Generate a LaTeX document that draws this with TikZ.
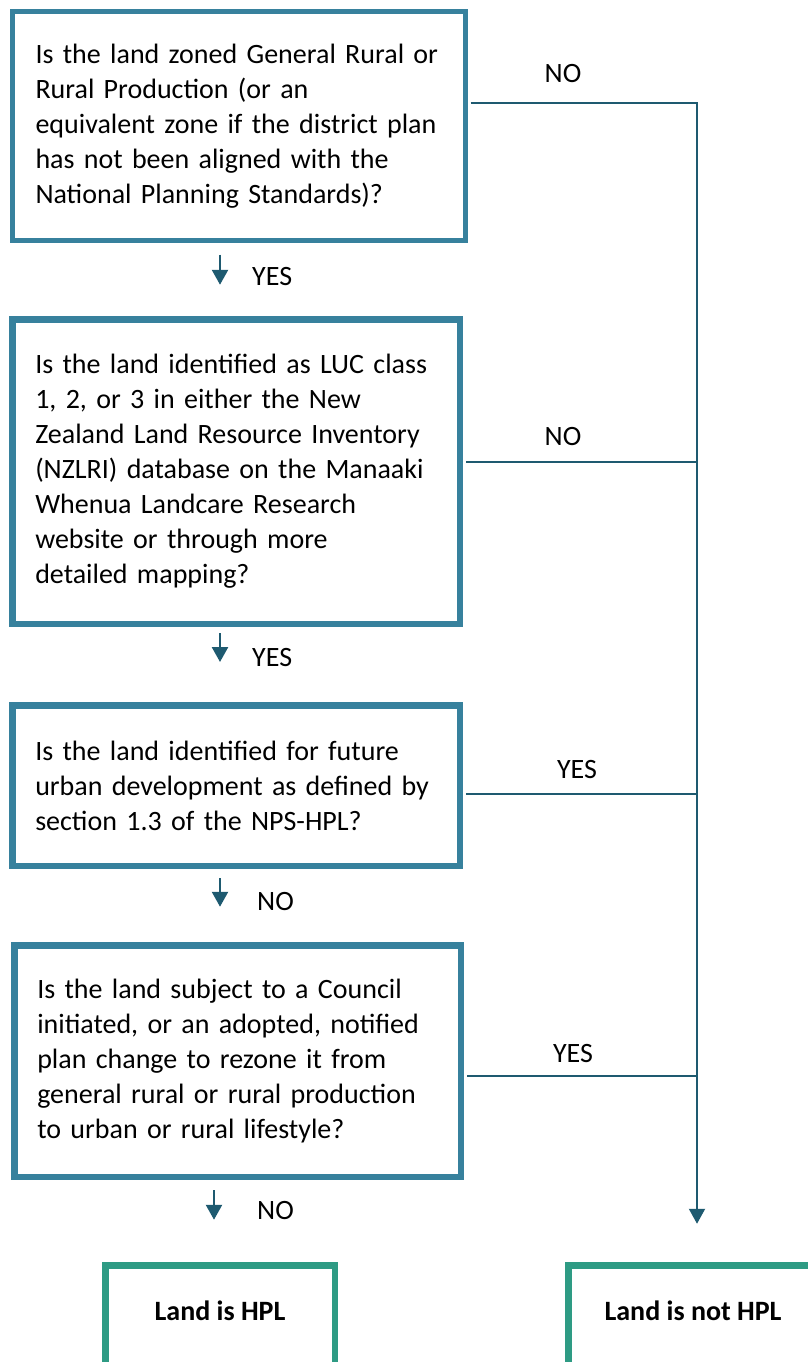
\documentclass[tikz,border=0pt]{standalone}
\usepackage{fontspec}
\setmainfont{Carlito}
\usepackage{tikz}
\usetikzlibrary{arrows.meta,calc}
\definecolor{steelblue}{RGB}{55,129,157}
\definecolor{deepteal}{RGB}{30,90,112}
\definecolor{jadegreen}{RGB}{46,155,132}

\tikzset{
    qbox/.style={draw=steelblue, line width=6.5pt, align=left, text width=401.5pt,
        inner xsep=23pt, inner ysep=0pt, minimum height=#1},
    endbox/.style={draw=jadegreen, line width=6.5pt, font=\fontsize{28}{35}\selectfont\bfseries,
        minimum width=#1, minimum height=120pt, text height=12pt, text depth=22.5pt},
    flowarrow/.style={deepteal, line width=2.5pt, -{Triangle[width=16pt,length=15pt]}},
    flowline/.style={deepteal, line width=2pt},
    lbl/.style={inner sep=0pt}
}

\begin{document}
\begin{tikzpicture}[x=1pt, y=-1pt, font=\fontsize{28}{35}\selectfont]
    \clip (0,0) rectangle (808,1362);
    \coordinate (col) at (220,0);
    \coordinate (col2) at (214,0);
    \coordinate (trunk) at (697,0);

    % Questions
    \node[qbox=229pt, line width=5pt, text width=407pt] (q1) at (239,126)
        {Is the land zoned General Rural or\\Rural Production (or an\\equivalent zone if the district plan\\has not been aligned with the\\National Planning Standards)?};
    \node[qbox=304.5pt] (q2) at (236,471.5)
        {Is the land identified as LUC class\\1, 2, or 3 in either the New\\Zealand Land Resource Inventory\\(NZLRI) database on the Manaaki\\Whenua Landcare Research\\website or through more\\detailed mapping?};
    \node[qbox=160.5pt] (q3) at (236,785.5)
        {Is the land identified for future\\urban development as defined by\\section 1.3 of the NPS-HPL?};
    \node[qbox=231.5pt, text width=400.5pt] (q4) at (237.5,1061)
        {Is the land subject to a Council\\initiated, or an adopted, notified\\plan change to rezone it from\\general rural or rural production\\to urban or rural lifestyle?};

    % Outcomes
    \node[endbox=229.5pt] (hpl) at (220,1325.25) {Land is HPL};
    \node[endbox=249.5pt] (nothpl) at (693,1325.25) {Land is not HPL};

    % Down the left
    \draw[flowarrow, shorten <=11.5pt, shorten >=31.25pt] (q1.south -| col) -- (q2.north -| col);
    \node[lbl, anchor=base west] (yes1) at (252,285) {YES};
    \draw[flowarrow, shorten <=6pt, shorten >=40pt] (q2.south -| col) -- (q3.north -| col);
    \node[lbl, anchor=base west] (yes2) at (252,666) {YES};
    \draw[flowarrow, shorten <=9.25pt, shorten >=35.25pt] (q3.south -| col) -- (q4.north -| col);
    \node[lbl, anchor=base west] (no3) at (257,910) {NO};
    \draw[flowarrow, shorten <=10.25pt, shorten >=42.25pt] (q4.south -| col2) -- (hpl.north -| col2);
    \node[lbl, anchor=base west] (no4) at (257,1219) {NO};

    % Right-hand trunk
    \draw[flowarrow, line width=2pt, shorten <=2.5pt, shorten >=38.25pt]
        ([yshift=23pt]q1.east) -| (trunk |- nothpl.north);
    \draw[flowline, shorten <=3.25pt] ([yshift=9.5pt]q2.east) -- ([yshift=9.5pt]q2.east -| trunk);
    \draw[flowline, shorten <=3.25pt] ([yshift=-8.5pt]q3.east) -- ([yshift=-8.5pt]q3.east -| trunk);
    \draw[flowline, shorten <=3.25pt] ([yshift=-15pt]q4.east) -- ([yshift=-15pt]q4.east -| trunk);
    \node[lbl, anchor=base] (no1) at (563,83) {NO};
    \node[lbl, anchor=base] (no2) at (563,445) {NO};
    \node[lbl, anchor=base] (yes3) at (577,778) {YES};
    \node[lbl, anchor=base] (yes4) at (573,1062) {YES};
\end{tikzpicture}
\end{document}
